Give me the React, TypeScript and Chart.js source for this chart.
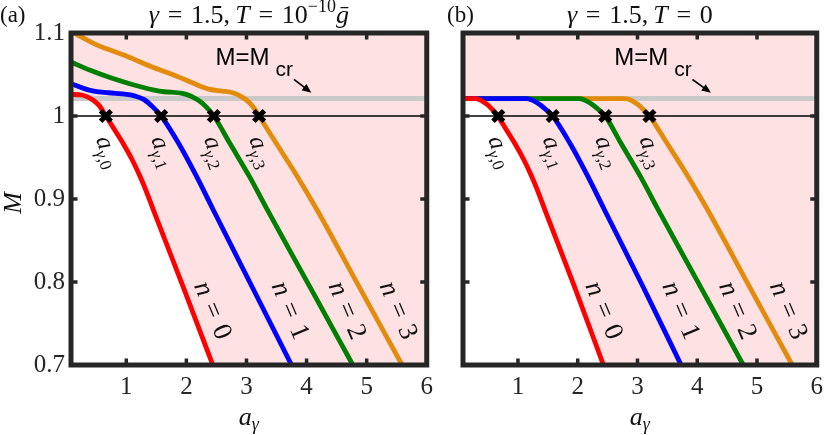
import { useEffect, useRef } from 'react';
import { Chart, registerables } from 'chart.js';

Chart.register(...registerables);

// axis ranges and ticks
const X_MIN = 0.08;
const X_MAX = 6;
const Y_MIN = 0.7;
const Y_MAX = 1.1;
const xTicks = [1, 2, 3, 4, 5, 6];
const yTicks = [0.7, 0.8, 0.9, 1, 1.1];
const yTickLabels = ['0.7', '0.8', '0.9', '1', '1.1'];
const mCritical = 1.021;

// panel (a): T = 1e-10 gbar, curves n = 0..3
const aRedX = [0.08, 0.25, 0.35, 0.45, 0.55, 0.66, 0.8, 0.955, 1.1, 1.23, 1.34, 1.45, 1.95, 2.44];
const aRedM = [1.026, 1.0253, 1.023, 1.019, 1.0125, 1.0, 0.984, 0.966, 0.947, 0.927, 0.908, 0.887, 0.7935, 0.7];
const aBlueX = [0.08, 0.3, 0.46, 0.7, 1.01, 1.15, 1.29, 1.44, 1.58, 1.863, 2.167, 2.44, 3.095, 3.75];
const aBlueM = [1.039, 1.033, 1.03, 1.028, 1.026, 1.024, 1.02, 1.011, 1.0, 0.968, 0.9275, 0.888, 0.794, 0.7];
const aGreenX = [0.08, 0.4, 0.74, 1.1, 1.55, 2.0, 2.2, 2.33, 2.457, 2.716, 3.046, 3.348, 4.06, 4.77];
const aGreenM = [1.065, 1.055, 1.046, 1.038, 1.03, 1.026, 1.019, 1.011, 1.0, 0.968, 0.9275, 0.887, 0.7935, 0.7];
const aOrangeX = [0.08, 0.5, 1.01, 1.4, 1.84, 2.1, 2.39, 2.6, 2.77, 2.92, 3.05, 3.13, 3.21, 3.487, 3.843, 4.173, 4.88, 5.59];
const aOrangeM = [1.102, 1.086, 1.072, 1.06, 1.048, 1.04, 1.032, 1.03, 1.028, 1.023, 1.016, 1.009, 1.0, 0.968, 0.9275, 0.887, 0.7935, 0.7];
const aCrossX = [0.66, 1.58, 2.457, 3.21];

// panel (b): T = 0
const bRedX = [0.08, 0.3, 0.4, 0.5, 0.58, 0.66, 0.8, 0.955, 1.1, 1.23, 1.34, 1.45, 1.95, 2.43];
const bRedM = [1.021, 1.021, 1.018, 1.013, 1.007, 1.0, 0.984, 0.966, 0.947, 0.927, 0.908, 0.887, 0.7935, 0.7];
const bBlueX = [0.08, 1.15, 1.27, 1.38, 1.48, 1.58, 1.863, 2.167, 2.44, 3.095, 3.73];
const bBlueM = [1.021, 1.021, 1.018, 1.013, 1.007, 1.0, 0.968, 0.9275, 0.888, 0.794, 0.7];
const bGreenX = [0.08, 2.03, 2.15, 2.26, 2.36, 2.46, 2.716, 3.046, 3.348, 4.06, 4.77];
const bGreenM = [1.021, 1.021, 1.018, 1.013, 1.007, 1.0, 0.968, 0.9275, 0.887, 0.7935, 0.7];
const bOrangeX = [0.08, 2.8, 2.92, 3.02, 3.11, 3.2, 3.487, 3.843, 4.173, 4.88, 5.59];
const bOrangeM = [1.021, 1.021, 1.018, 1.013, 1.007, 1.0, 0.968, 0.9275, 0.887, 0.7935, 0.7];
const bCrossX = [0.67, 1.58, 2.46, 3.2];

// label anchors (data coordinates)
const nLabelX = [2.44, 3.73, 4.68, 5.53];
const nLabelM = 0.766;
const aLabelM = 0.956;

const lineColors = ['#ff0000', '#0000ff', '#008000', '#e38b0c'];
const PINK = '#fde1e3';
const INK = '#262626';
const SERIF = '"Liberation Serif", "DejaVu Serif", serif';
const SANS = '"Liberation Sans", Arial, sans-serif';
const EQ = '\u2004=\u2004';

type Run = { t: string; font: string; dy?: number };

const rom = (size: number) => `${size}px ${SERIF}`;
const ita = (size: number) => `italic ${size}px ${SERIF}`;

function runsWidth(ctx: CanvasRenderingContext2D, runs: Run[]) {
  let w = 0;
  for (const r of runs) {
    ctx.font = r.font;
    w += ctx.measureText(r.t).width;
  }
  return w;
}

function drawRuns(ctx: CanvasRenderingContext2D, runs: Run[], x: number, y: number) {
  let cx = x;
  for (const r of runs) {
    ctx.font = r.font;
    ctx.fillText(r.t, cx, y + (r.dy || 0));
    cx += ctx.measureText(r.t).width;
  }
}

interface PanelSpec {
  tag: string;
  xs: number[][];
  ms: number[][];
  crossX: number[];
  showY: boolean;
  yAxisWidth: number;
  padRight: number;
  title: Run[];
  mcrText: [number, number];
  arrow: [number, number, number, number];
}

const panelA: PanelSpec = {
  tag: '(a)',
  xs: [aRedX, aBlueX, aGreenX, aOrangeX],
  ms: [aRedM, aBlueM, aGreenM, aOrangeM],
  crossX: aCrossX,
  showY: true,
  yAxisWidth: 71,
  padRight: 11,
  title: [
    { t: 'γ', font: ita(26) },
    { t: EQ + '1.5,\u2009', font: rom(26) },
    { t: 'T', font: ita(26) },
    { t: EQ + '10', font: rom(26) },
    { t: '−10', font: rom(18), dy: -11 },
    { t: 'ḡ', font: ita(26) },
  ],
  mcrText: [2.485, 1.062],
  arrow: [3.79, 1.044, 4.08, 1.028],
};

const panelB: PanelSpec = {
  tag: '(b)',
  xs: [bRedX, bBlueX, bGreenX, bOrangeX],
  ms: [bRedM, bBlueM, bGreenM, bOrangeM],
  crossX: bCrossX,
  showY: false,
  yAxisWidth: 23,
  padRight: 7,
  title: [
    { t: 'γ', font: ita(26) },
    { t: EQ + '1.5,\u2009', font: rom(26) },
    { t: 'T', font: ita(26) },
    { t: EQ + '0', font: rom(26) },
  ],
  mcrText: [2.61, 1.062],
  arrow: [3.92, 1.044, 4.23, 1.028],
};

function makePlugin(p: PanelSpec) {
  return {
    id: 'panelDecor',
    beforeDraw(chart: any) {
      const { ctx, chartArea: a } = chart;
      ctx.save();
      ctx.fillStyle = PINK;
      ctx.fillRect(a.left, a.top, a.right - a.left, a.bottom - a.top);
      ctx.restore();
    },
    afterDatasetsDraw(chart: any) {
      const { ctx, chartArea: a, scales } = chart;
      const xs = scales.x;
      const ys = scales.y;
      ctx.save();
      ctx.strokeStyle = INK;
      ctx.lineWidth = 5;
      ctx.strokeRect(a.left, a.top, a.right - a.left, a.bottom - a.top);
      // inward tick marks
      ctx.lineWidth = 3.5;
      ctx.beginPath();
      xTicks.slice(0, -1).forEach((v) => {
        const px = xs.getPixelForValue(v);
        ctx.moveTo(px, a.bottom);
        ctx.lineTo(px, a.bottom - 6.5);
        ctx.moveTo(px, a.top);
        ctx.lineTo(px, a.top + 6.5);
      });
      yTicks.slice(1, -1).forEach((v) => {
        const py = ys.getPixelForValue(v);
        ctx.moveTo(a.left, py);
        ctx.lineTo(a.left + 6.5, py);
        ctx.moveTo(a.right, py);
        ctx.lineTo(a.right - 6.5, py);
      });
      ctx.stroke();

      ctx.fillStyle = '#111';
      ctx.textBaseline = 'alphabetic';

      // n = k labels along the lines
      nLabelX.forEach((x, i) => {
        ctx.save();
        ctx.translate(xs.getPixelForValue(x), ys.getPixelForValue(nLabelM));
        ctx.rotate((67 * Math.PI) / 180);
        const runs: Run[] = [
          { t: 'n', font: ita(27) },
          { t: EQ + i, font: rom(27) },
        ];
        drawRuns(ctx, runs, -runsWidth(ctx, runs) / 2, 8);
        ctx.restore();
      });

      // a_{gamma,k} labels under the crossings
      p.crossX.forEach((x, i) => {
        ctx.save();
        ctx.translate(xs.getPixelForValue(x), ys.getPixelForValue(aLabelM));
        ctx.rotate((70 * Math.PI) / 180);
        const runs: Run[] = [
          { t: 'a', font: ita(25) },
          { t: 'γ', font: ita(17), dy: 5 },
          { t: ',' + i, font: rom(17), dy: 5 },
        ];
        drawRuns(ctx, runs, -runsWidth(ctx, runs) / 2, 5);
        ctx.restore();
      });

      // M = M_cr annotation with arrow
      const tx = xs.getPixelForValue(p.mcrText[0]);
      const ty = ys.getPixelForValue(p.mcrText[1]);
      ctx.fillStyle = '#000';
      ctx.font = `24px ${SANS}`;
      ctx.fillText('M=M', tx, ty);
      const mw = ctx.measureText('M=M').width;
      ctx.font = `21px ${SANS}`;
      ctx.fillText('cr', tx + mw + 6, ty + 11);

      const x0 = xs.getPixelForValue(p.arrow[0]);
      const y0 = ys.getPixelForValue(p.arrow[1]);
      const x1 = xs.getPixelForValue(p.arrow[2]);
      const y1 = ys.getPixelForValue(p.arrow[3]);
      const ang = Math.atan2(y1 - y0, x1 - x0);
      ctx.strokeStyle = '#000';
      ctx.lineWidth = 1.6;
      ctx.beginPath();
      ctx.moveTo(x0, y0);
      ctx.lineTo(x1 - 5 * Math.cos(ang), y1 - 5 * Math.sin(ang));
      ctx.stroke();
      ctx.beginPath();
      ctx.moveTo(x1, y1);
      ctx.lineTo(x1 - 10 * Math.cos(ang - 0.4), y1 - 10 * Math.sin(ang - 0.4));
      ctx.lineTo(x1 - 10 * Math.cos(ang + 0.4), y1 - 10 * Math.sin(ang + 0.4));
      ctx.closePath();
      ctx.fill();
      ctx.restore();
    },
    afterDraw(chart: any) {
      const { ctx, chartArea: a } = chart;
      ctx.save();
      ctx.fillStyle = '#111';
      ctx.textBaseline = 'alphabetic';
      const cx = (a.left + a.right) / 2;

      // title
      drawRuns(ctx, p.title, cx - runsWidth(ctx, p.title) / 2, 23);

      // panel tag
      ctx.font = rom(23);
      ctx.fillText(p.tag, a.left - 71 + (p.showY ? 0 : 55), 22);

      // x axis title
      const xt: Run[] = [
        { t: 'a', font: ita(26) },
        { t: 'γ', font: ita(18), dy: 5 },
      ];
      drawRuns(ctx, xt, cx - runsWidth(ctx, xt) / 2, 425);

      // y axis title
      if (p.showY) {
        ctx.save();
        ctx.translate(21, (a.top + a.bottom) / 2 + 4);
        ctx.rotate(-Math.PI / 2);
        ctx.font = ita(26);
        ctx.textAlign = 'center';
        ctx.fillText('M', 0, 0);
        ctx.restore();
      }
      ctx.restore();
    },
  };
}

function buildConfig(p: PanelSpec): any {
  const curves = p.xs.map((xs, i) => ({
    label: 'n = ' + i,
    data: xs.map((x, j) => ({ x, y: p.ms[i][j] })),
    borderColor: lineColors[i],
    backgroundColor: '#ffffff',
    borderWidth: 4.8,
    pointRadius: 0,
    cubicInterpolationMode: 'monotone',
    // region below the n = 0 curve stays white
    fill: i === 0 ? 'start' : false,
    clip: 0,
  }));
  return {
    type: 'line',
    data: {
      datasets: [
        {
          label: 'crossings',
          data: p.crossX.map((x) => ({ x, y: 1 })),
          showLine: false,
          pointStyle: 'crossRot',
          pointRadius: 7.5,
          pointBorderWidth: 5,
          pointBorderColor: '#000',
          borderColor: '#000',
        },
        ...curves,
        {
          label: 'M = 1',
          data: [
            { x: X_MIN, y: 1 },
            { x: X_MAX, y: 1 },
          ],
          borderColor: '#000',
          borderWidth: 1.6,
          pointRadius: 0,
        },
        {
          label: 'M = Mcr',
          data: [
            { x: X_MIN, y: mCritical },
            { x: X_MAX, y: mCritical },
          ],
          borderColor: '#c9c9c9',
          borderWidth: 5,
          pointRadius: 0,
        },
      ],
    },
    options: {
      animation: false,
      responsive: false,
      devicePixelRatio: 1,
      layout: { padding: { top: 33, right: p.padRight, left: 0, bottom: 0 } },
      plugins: {
        legend: { display: false },
        tooltip: { enabled: false },
        filler: { drawTime: 'beforeDatasetsDraw' },
      },
      scales: {
        x: {
          type: 'linear',
          min: X_MIN,
          max: X_MAX,
          grid: { display: false, drawTicks: false },
          border: { display: false },
          afterBuildTicks: (s: any) => {
            s.ticks = xTicks.map((v) => ({ value: v }));
          },
          afterFit: (s: any) => {
            s.height = 70;
          },
          ticks: {
            autoSkip: false,
            maxRotation: 0,
            padding: 7,
            color: INK,
            font: { family: SERIF, size: 25 },
            callback: (v: number) => String(v),
          },
        },
        y: {
          type: 'linear',
          min: Y_MIN,
          max: Y_MAX,
          grid: { display: false, drawTicks: false },
          border: { display: false },
          afterBuildTicks: (s: any) => {
            s.ticks = yTicks.map((v) => ({ value: v }));
          },
          afterFit: (s: any) => {
            s.width = p.yAxisWidth;
          },
          ticks: {
            display: p.showY,
            padding: 6,
            color: INK,
            font: { family: SERIF, size: 25 },
            callback: (v: number) => yTickLabels[yTicks.indexOf(v)],
          },
        },
      },
    },
    plugins: [makePlugin(p)],
  };
}

export default function App() {
  const leftRef = useRef<HTMLCanvasElement | null>(null);
  const rightRef = useRef<HTMLCanvasElement | null>(null);

  useEffect(() => {
    if (!leftRef.current || !rightRef.current) return;
    const left = new Chart(leftRef.current, buildConfig(panelA));
    const right = new Chart(rightRef.current, buildConfig(panelB));
    return () => {
      left.destroy();
      right.destroy();
    };
  }, []);

  return (
    <div style={{ position: 'absolute', left: 0, top: 0, width: 830, height: 435, background: '#fff' }}>
      <canvas
        ref={leftRef}
        width={440}
        height={435}
        style={{ position: 'absolute', left: 0, top: 0, width: 440, height: 435 }}
      ></canvas>
      <canvas
        ref={rightRef}
        width={390}
        height={435}
        style={{ position: 'absolute', left: 440, top: 0, width: 390, height: 435 }}
      ></canvas>
    </div>
  );
}
